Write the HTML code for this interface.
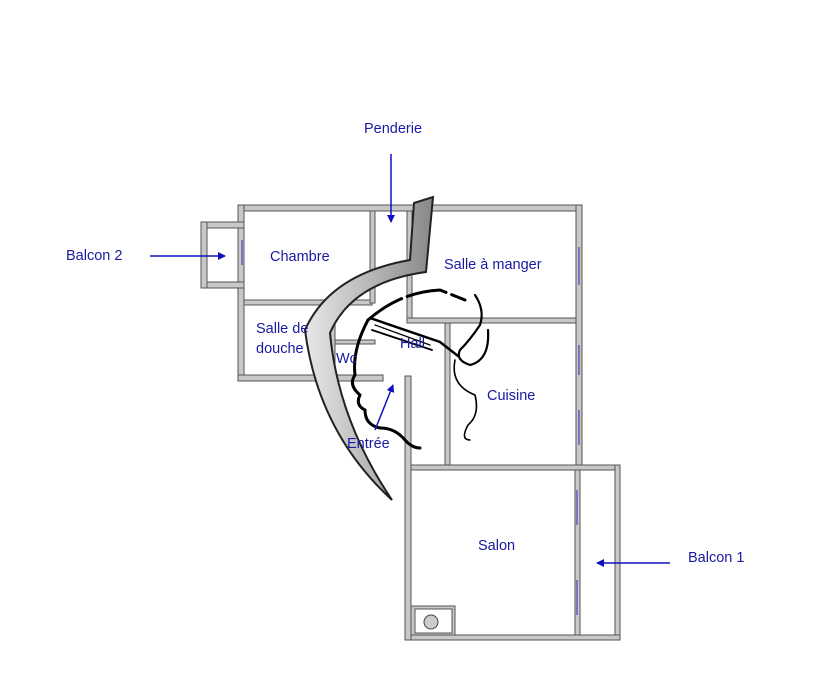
<!DOCTYPE html>
<html><head><meta charset="utf-8"><style>
html,body{margin:0;padding:0;background:#fff;}
svg{display:block;}
text{font-family:"Liberation Sans",sans-serif;font-size:14.5px;fill:#1a1aa0;}
</style></head><body>
<svg width="814" height="699" viewBox="0 0 814 699" xmlns="http://www.w3.org/2000/svg">
<defs>
<marker id="ah" markerWidth="8" markerHeight="8" refX="7" refY="4" orient="auto" markerUnits="userSpaceOnUse">
<path d="M0,0 L8,4 L0,8 Z" fill="#1010c0"/></marker>
<linearGradient id="g" x1="0" y1="0" x2="1" y2="0"><stop offset="0" stop-color="#e8e8e8"/><stop offset="1" stop-color="#888"/></linearGradient>
</defs>
<g fill="#c8c8c8" stroke="#555" stroke-width="1">
<rect x="238" y="205" width="344" height="6"/>
<rect x="238" y="205" width="6" height="176"/>
<rect x="238" y="375" width="145" height="6"/>
<rect x="201" y="222" width="43" height="6"/>
<rect x="201" y="282" width="43" height="6"/>
<rect x="201" y="222" width="6" height="66"/>
<rect x="244" y="300" width="128" height="5"/>
<rect x="370" y="211" width="5" height="92"/>
<rect x="407" y="211" width="5" height="112"/>
<rect x="407" y="318" width="170" height="5"/>
<rect x="576" y="205" width="6" height="265"/>
<rect x="445" y="323" width="5" height="147"/>
<rect x="405" y="465" width="215" height="5"/>
<rect x="615" y="465" width="5" height="175"/>
<rect x="405" y="635" width="215" height="5"/>
<rect x="405" y="376" width="6" height="264"/>
<rect x="575" y="470" width="5" height="165"/>
<rect x="330" y="305" width="5" height="70"/>
<rect x="335" y="340" width="40" height="4"/>
<rect x="411" y="606" width="44" height="29"/>
</g>
<rect x="415" y="609" width="37" height="24" fill="#fff" stroke="#555"/>
<circle cx="431" cy="622" r="7" fill="#ccc" stroke="#444"/>
<g stroke="#4040c0" stroke-width="1.2">
<line x1="242" y1="240" x2="242" y2="265"/>
<line x1="579" y1="247" x2="579" y2="285"/>
<line x1="579" y1="345" x2="579" y2="375"/>
<line x1="579" y1="410" x2="579" y2="445"/>
<line x1="577" y1="490" x2="577" y2="525"/>
<line x1="577" y1="580" x2="577" y2="615"/>
</g>
<path d="M414,203 L433,197 L426,272 Q352,282 330,333 Q338,420 392,500 Q318,432 305,330 Q330,274 410,260 Z" fill="url(#g)" stroke="#222" stroke-width="2"/>
<g fill="none" stroke="#000" stroke-width="3" stroke-linecap="round">
<path d="M368,320 Q400,292 440,290 L465,300" stroke-dasharray="40,6"/>
<path d="M368,320 Q352,350 355,375 Q348,385 360,395 Q355,405 365,410 Q365,425 380,428 Q395,428 405,440 Q412,448 420,448"/>
<path d="M370,318 L440,342 L458,356" stroke-width="2.5"/>
<path d="M372,330 L432,350" stroke-width="1.8"/>
<path d="M375,325 L430,345" stroke-width="1.2"/>
<path d="M475,295 Q485,310 480,325 Q470,340 460,350 Q455,360 470,365 Q490,360 488,330" stroke-width="2.2"/>
<path d="M455,360 Q450,385 475,395 Q480,415 468,425 Q460,440 470,440" stroke-width="1.6"/>
</g>
<text x="364" y="133">Penderie</text>
<text x="66" y="260">Balcon 2</text>
<text x="270" y="261">Chambre</text>
<text x="444" y="269">Salle à manger</text>
<text x="256" y="333">Salle de</text>
<text x="256" y="353">douche</text>
<text x="336" y="363">Wc</text>
<text x="400" y="348">Hall</text>
<text x="487" y="400">Cuisine</text>
<text x="347" y="448">Entrée</text>
<text x="478" y="550">Salon</text>
<text x="688" y="562">Balcon 1</text>
<g stroke="#1010c0" stroke-width="1.5">
<line x1="391" y1="154" x2="391" y2="222" marker-end="url(#ah)"/>
<line x1="150" y1="256" x2="225" y2="256" marker-end="url(#ah)"/>
<line x1="670" y1="563" x2="597" y2="563" marker-end="url(#ah)"/>
<line x1="375" y1="430" x2="393" y2="385" marker-end="url(#ah)"/>
</g>
</svg>
</body></html>
